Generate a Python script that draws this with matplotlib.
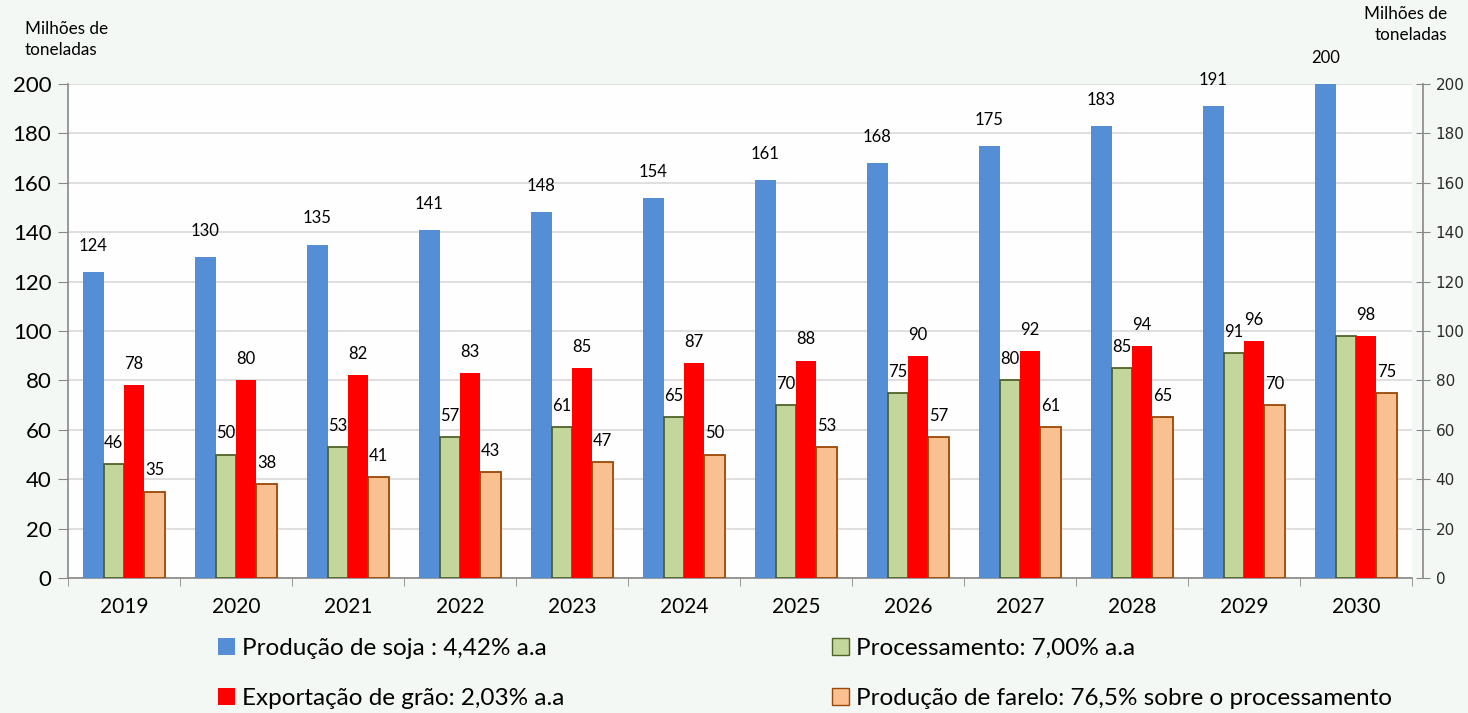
import matplotlib
matplotlib.use("Agg")
import matplotlib.pyplot as plt
import numpy as np
from matplotlib.patches import Patch

years = ["2019", "2020", "2021", "2022", "2023", "2024", "2025", "2026", "2027", "2028", "2029", "2030"]
soja = [124, 130, 135, 141, 148, 154, 161, 168, 175, 183, 191, 200]
processamento = [46, 50, 53, 57, 61, 65, 70, 75, 80, 85, 91, 98]
exportacao = [78, 80, 82, 83, 85, 87, 88, 90, 92, 94, 96, 98]
farelo = [35, 38, 41, 43, 47, 50, 53, 57, 61, 65, 70, 75]
legend_labels = ["Produção de soja : 4,42% a.a", "Processamento: 7,00% a.a",
                 "Exportação de grão: 2,03% a.a", "Produção de farelo: 76,5% sobre o processamento"]
yticks = [0, 20, 40, 60, 80, 100, 120, 140, 160, 180, 200]
unit_label = "Milhões de\ntoneladas"

FONT = ["Lato", "DejaVu Sans"]
plt.rcParams["font.family"] = FONT

fig = plt.figure(figsize=(14.68, 7.13), dpi=100, facecolor="#f4f8f5")
ax = fig.add_axes([68 / 1468, 1 - 578 / 713, (1412 - 68) / 1468, (578 - 84) / 713])
ax.set_facecolor("#fdfefd")

x = np.arange(len(years))
w = 0.183
offs = [-1.5 * w, -0.5 * w, 0.5 * w, 1.5 * w]

c_blue = "#558ED5"
c_green, e_green = "#C3D69B", "#4F6228"
c_red = "#FF0000"
c_orange, e_orange = "#FAC090", "#984807"

b1 = ax.bar(x + offs[0], soja, w, color=c_blue, linewidth=0, zorder=3)
b2 = ax.bar(x + offs[1], processamento, w, color=c_green, edgecolor=e_green, linewidth=1.3, zorder=3)
b3 = ax.bar(x + offs[2], exportacao, w, color=c_red, linewidth=0, zorder=3)
b4 = ax.bar(x + offs[3], farelo, w, color=c_orange, edgecolor=e_orange, linewidth=1.3, zorder=3)

lab_fs = 12
for i in range(len(years)):
    ax.annotate(str(soja[i]), (x[i] + offs[0], soja[i]), xytext=(0, 13), textcoords="offset points",
                ha="center", va="bottom", fontsize=lab_fs, annotation_clip=False)
    if i < len(years) - 1:
        ax.annotate(str(processamento[i]), (x[i] + offs[1], processamento[i]), xytext=(0, 9.5),
                    textcoords="offset points", ha="center", va="bottom", fontsize=lab_fs)
    ax.annotate(str(exportacao[i]), (x[i] + offs[2], exportacao[i]), xytext=(0, 9.5),
                textcoords="offset points", ha="center", va="bottom", fontsize=lab_fs)
    ax.annotate(str(farelo[i]), (x[i] + offs[3], farelo[i]), xytext=(0, 9.5),
                textcoords="offset points", ha="center", va="bottom", fontsize=lab_fs)

ax.set_xlim(-0.5, len(years) - 0.5)
ax.set_ylim(0, 200)
ax.set_yticks(yticks)
ax.tick_params(axis="y", labelsize=16, length=7, color="#888888", pad=5, direction="out")
ax.set_xticks(x)
ax.set_xticklabels(years)
ax.set_xticks(np.arange(-0.5, len(years), 1), minor=True)
ax.tick_params(axis="x", which="major", length=0, labelsize=15, pad=14)
ax.tick_params(axis="x", which="minor", length=6, color="#888888", direction="out")
ax.grid(axis="y", color="#d9d9d9", linewidth=1.2, zorder=0)
for s in ["top", "right"]:
    ax.spines[s].set_visible(False)
for s in ["left", "bottom"]:
    ax.spines[s].set_color("#888888")
    ax.spines[s].set_linewidth(1.2)

ax2 = ax.twinx()
ax2.set_ylim(0, 200)
ax2.set_yticks(yticks)
for s in ["top", "left", "bottom"]:
    ax2.spines[s].set_visible(False)
ax2.spines["right"].set_position(("outward", 8))
ax2.spines["right"].set_color("#888888")
ax2.spines["right"].set_linewidth(1.2)
ax2.tick_params(axis="y", direction="inout", length=10, color="#888888", labelsize=11, pad=4,
                labelcolor="#2a2a2a")
for t in ax2.get_yticklabels():
    t.set_fontfamily("DejaVu Sans")

fig.text(25 / 1468, 1 - 21 / 713, unit_label, ha="left", va="top", fontsize=12.3, linespacing=1.35)
fig.text(1447 / 1468, 1 - 6 / 713, unit_label, ha="right", va="top", fontsize=12.3, linespacing=1.35,
         multialignment="right")

handles = [Patch(facecolor=c_blue, edgecolor="none"),
           Patch(facecolor=c_red, edgecolor="none"),
           Patch(facecolor=c_green, edgecolor=e_green),
           Patch(facecolor=c_orange, edgecolor=e_orange)]
labels = [legend_labels[0], legend_labels[2], legend_labels[1], legend_labels[3]]
fig.legend(handles, labels, ncol=2, loc="upper left", bbox_to_anchor=(208 / 1468, 1 - 628 / 713),
           frameon=False, fontsize=17.5, handlelength=0.7, handleheight=0.7, handletextpad=0.3,
           columnspacing=11.0, labelspacing=1.2, borderaxespad=0)

fig.savefig("out.png", dpi=100, facecolor=fig.get_facecolor())
